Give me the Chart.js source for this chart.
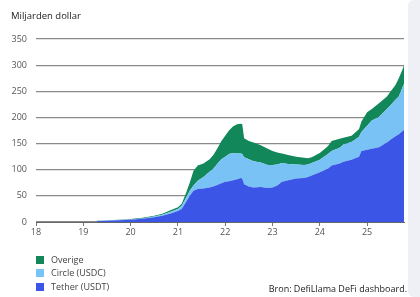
<!DOCTYPE html>
<html>
<head>
<meta charset="utf-8">
<script src="https://cdn.jsdelivr.net/npm/chart.js@4"></script>
<style>
  html, body { margin: 0; padding: 0; background: #fff; }
  body { width: 420px; height: 297px; position: relative; overflow: hidden; font-family: "Open Sans", sans-serif; }
  #panel { position: absolute; left: 408px; top: 0; width: 24px; height: 297px; background: #eef0f6; border-radius: 6px; }
  #wrap { position: absolute; left: 0; top: 0; width: 420px; height: 297px; }
  #title { position: absolute; left: 11px; top: 9px; font-size: 9.5px; color: #222; }
  .leg { position: absolute; left: 36px; font-size: 9px; color: #444; height: 9px; line-height: 9px; }
  .leg span.sw { position: absolute; left: 0; top: 0; width: 8px; height: 8px; }
  .leg span.tx { position: absolute; left: 15px; top: -1px; white-space: nowrap; }
  #src { position: absolute; right: 13px; top: 282px; font-size: 9px; color: #222; white-space: nowrap; }
</style>
</head>
<body>
<div id="panel"></div>
<div id="wrap"><canvas id="c" width="420" height="297"></canvas></div>
<div id="title">Miljarden dollar</div>
<div class="leg" style="top:256px"><span class="sw" style="background:#12875a"></span><span class="tx">Overige</span></div>
<div class="leg" style="top:269px"><span class="sw" style="background:#78c2f5"></span><span class="tx">Circle (USDC)</span></div>
<div class="leg" style="top:283px"><span class="sw" style="background:#3b55e6"></span><span class="tx">Tether (USDT)</span></div>
<div id="src">Bron: DefiLlama DeFi dashboard.</div>
<script>
const years = [19.28,19.5,19.75,20.0,20.25,20.5,20.67,20.83,21.0,21.08,21.17,21.25,21.33,21.42,21.54,21.67,21.75,21.83,21.92,22.0,22.08,22.17,22.25,22.33,22.36,22.4,22.5,22.6,22.75,22.9,23.0,23.1,23.2,23.33,23.5,23.67,23.75,23.83,24.0,24.17,24.25,24.42,24.5,24.67,24.75,24.83,24.88,25.0,25.1,25.25,25.42,25.5,25.6,25.67,25.75,25.78];
const tether = [1.5,2.5,3.5,4.2,6,9,12,16,21,25,38,50,60,63,64,66,68,71,74,77,78,80,82,84,83,72,68,66,67,65,66,70,77,80,83,84,86,89,95,102,108,112,115,119,122,125,136,138,140,143,152,158,164,168,174,176];
const circle = [0.3,0.3,0.4,0.5,0.8,1.3,2,3,4,6,8,10,10,16,22,30,34,40,46,48,52,52,49,47,47,52,52,50,47,44,43,40,36,31,27,25,24,24,24,28,28,30,33,34,36,38,36,46,54,58,64,66,70,72,84,88];
const overige = [0.5,0.5,0.6,0.8,1.2,1.7,2,3,3,4,9,15,28,29,26,24,26,29,35,40,45,51,56,57,57,36,35,36,33,31,27,23,18,17,15,14,12,11,13,15,19,17,13,12,13,15,20,26,22,26,24,26,28,35,34,36];
const yearTicks = [18,19,20,21,22,23,24,25];
const yTicks = [0,50,100,150,200,250,300,350];

const pts = arr => arr.map((v, i) => ({x: years[i], y: v}));
const font = {family: "'Open Sans', sans-serif", size: 9};

new Chart(document.getElementById('c'), {
  type: 'line',
  data: {
    datasets: [
      {label: 'Tether (USDT)', data: pts(tether), backgroundColor: '#3b55e6', fill: 'origin'},
      {label: 'Circle (USDC)', data: pts(circle), backgroundColor: '#78c2f5', fill: '-1'},
      {label: 'Overige', data: pts(overige), backgroundColor: '#12875a', fill: '-1'}
    ]
  },
  options: {
    responsive: false,
    animation: false,
    events: [],
    layout: {padding: {top: 39, right: 16, left: 0, bottom: 0}},
    elements: {point: {radius: 0}, line: {borderWidth: 0, tension: 0}},
    plugins: {legend: {display: false}, tooltip: {enabled: false}},
    scales: {
      x: {
        type: 'linear', min: 18, max: 25.78,
        afterBuildTicks: s => { s.ticks = yearTicks.map(v => ({value: v})); },
        afterFit: s => { s.height = 75; },
        ticks: {font: font, color: '#555', padding: 1, maxRotation: 0, callback: v => String(v)},
        grid: {drawOnChartArea: false, drawTicks: true, tickLength: 4, color: '#777'},
        border: {color: '#666', width: 1}
      },
      y: {
        stacked: true, min: 0, max: 350,
        afterBuildTicks: s => { s.ticks = yTicks.map(v => ({value: v})); },
        afterFit: s => { s.width = 36; },
        ticks: {font: font, color: '#555', padding: 9},
        grid: {color: '#8a8a8a', lineWidth: 1.2, drawTicks: false},
        border: {display: false}
      }
    }
  }
});
</script>
</body>
</html>
